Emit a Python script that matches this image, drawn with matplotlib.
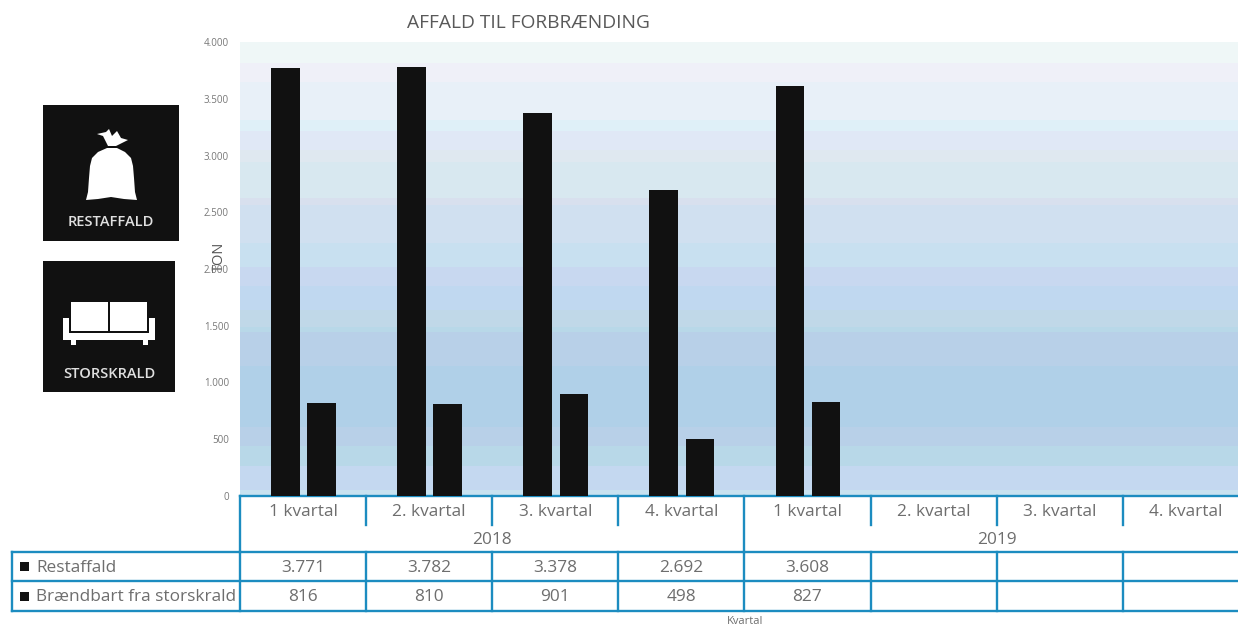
import matplotlib
matplotlib.use('Agg')
import matplotlib.pyplot as plt
from matplotlib.patches import Rectangle, Polygon

plt.rcParams['font.family'] = ['Open Sans', 'DejaVu Sans']

kvartaler = ['1 kvartal', '2. kvartal', '3. kvartal', '4. kvartal',
             '1 kvartal', '2. kvartal', '3. kvartal', '4. kvartal']
aar = ['2018', '2019']
serier = ['Restaffald', 'Brændbart fra storskrald']
restaffald = [3771, 3782, 3378, 2692, 3608]
storskrald = [816, 810, 901, 498, 827]
y_ticks = [0, 500, 1000, 1500, 2000, 2500, 3000, 3500, 4000]

# baggrundens striber: (top, bund, farve) i pixels
baand = [(42, 63, '#eff7f7'), (63, 82, '#eff0f8'), (82, 120, '#e8f0f8'), (120, 131, '#dff0f8'),
         (131, 150, '#e0e8f6'), (150, 162, '#dfe8f0'), (162, 198, '#d8e8f0'), (198, 205, '#d8e0ee'),
         (205, 243, '#d0e0f0'), (243, 267, '#c8e0f0'), (267, 286, '#c8d8f0'), (286, 310, '#c0d8f0'),
         (310, 327, '#c0d8e8'), (327, 332, '#b8d8e8'), (332, 366, '#b8d0e8'), (366, 427, '#b0d0e8'),
         (427, 446, '#b8d0e8'), (446, 466, '#b8d8e8'), (466, 490, '#c4d8f0'), (490, 496, '#c8e2f0')]

graa = '#6e6e6e'
blaa = '#1c8cc0'
sort = '#111111'
W, H = 1238, 626
venstre, cw = 240, 126.1

fig = plt.figure(figsize=(W / 100, H / 100), dpi=100)

# lag i pixels til baggrund, tabel og ikoner
pg = fig.add_axes([0, 0, 1, 1], zorder=0)
pg.set_xlim(0, W)
pg.set_ylim(H, 0)
pg.axis('off')

for top, bund, farve in baand:
    pg.add_patch(Rectangle((venstre, top), W - venstre, bund - top, color=farve, lw=0))

ax = fig.add_axes([venstre / W, (H - 496) / H, 8 * cw / W, 454 / H], zorder=1)
ax.patch.set_visible(False)
x = list(range(len(restaffald)))
ax.bar([i - 0.14 for i in x], restaffald, width=0.226, color=sort)
ax.bar([i + 0.147 for i in x], storskrald, width=0.226, color=sort)
ax.set_xlim(-0.5, 7.5)
ax.set_ylim(0, 4000)
ax.set_xticks([])
ax.set_yticks(y_ticks)
ax.set_yticklabels([f'{v:,}'.replace(',', '.') for v in y_ticks], fontsize=7, color='#777777')
ax.tick_params(axis='y', length=0, pad=8)
for s in ax.spines.values():
    s.set_visible(False)

pg.text(528, 23, 'AFFALD TIL FORBRÆNDING', fontsize=13.8, color='#595959', ha='center', va='center')
pg.text(219, 257, 'TON', fontsize=10.5, color='#555555', rotation=90, ha='center', va='center', zorder=5)
pg.text(745, 621, 'Kvartal', fontsize=8, color=graa, ha='center', va='center')


def linje(x0, y0, x1, y1):
    pg.plot([x0, x1], [y0, y1], color=blaa, lw=1.7, solid_capstyle='projecting', zorder=3)


kanter = [venstre + i * cw for i in range(9)]
y_top, y_kv, y_r1, y_r2, y_bund = 496, 525, 552, 581, 611

# kategori-akse
linje(venstre, y_top, W + 5, y_top)
linje(venstre, y_top, venstre, y_r1)
linje(kanter[4], y_top, kanter[4], y_r1)
for i in [1, 2, 3, 5, 6, 7]:
    linje(kanter[i], y_top, kanter[i], y_kv)
for i, navn in enumerate(kvartaler):
    pg.text(kanter[i] + cw / 2, 511.5, navn, fontsize=12.4, color=graa, ha='center', va='center')
for i, navn in enumerate(aar):
    pg.text(kanter[i * 4] + 2 * cw, 539.5, navn, fontsize=12.4, color=graa, ha='center', va='center')

# datatabel
for y in [y_r1, y_r2, y_bund]:
    linje(12, y, W + 5, y)
linje(12, y_r1, 12, y_bund)
for k in kanter:
    linje(k, y_r1, k, y_bund)

for y, navn, vaerdier in zip([566.5, 596], serier, [restaffald, storskrald]):
    pg.add_patch(Rectangle((20, y - 4.5), 9, 9, color=sort, lw=0))
    pg.text(36, y + 1, navn, fontsize=12.4, color=graa, ha='left', va='center')
    for i, v in enumerate(vaerdier):
        pg.text(kanter[i] + cw / 2, y + 1, f'{v:,}'.replace(',', '.'), fontsize=12.4, color=graa,
                ha='center', va='center')

# ikon: restaffald
pg.add_patch(Rectangle((43, 105), 136, 136, color=sort, lw=0))
pg.add_patch(Polygon([(107, 148), (98, 152), (92, 158), (90, 166), (89, 178), (88, 192), (86, 200), (98, 199),
                      (111, 197), (124, 199), (137, 200), (135, 192), (134, 178), (133, 166), (131, 158),
                      (125, 152), (117, 148)], closed=True, color='white', lw=0))
pg.add_patch(Polygon([(108, 146), (103, 136), (97, 134), (106, 132), (109, 129), (112, 136), (117, 131),
                      (121, 138), (128, 140), (120, 144), (116, 146)], closed=True, color='white', lw=0))
pg.text(111, 222.5, 'RESTAFFALD', fontsize=10.5, color='#e0e0e0', ha='center', va='center', fontweight='semibold')

# ikon: storskrald
pg.add_patch(Rectangle((43, 261), 132, 131, color=sort, lw=0))
pg.add_patch(Rectangle((71, 302), 37, 29, color='white', lw=0))
pg.add_patch(Rectangle((110, 302), 37, 29, color='white', lw=0))
pg.add_patch(Rectangle((63, 318), 6, 22, color='white', lw=0))
pg.add_patch(Rectangle((149, 318), 6, 22, color='white', lw=0))
pg.add_patch(Rectangle((63, 333), 92, 7, color='white', lw=0))
pg.add_patch(Rectangle((71, 340), 5, 5, color='white', lw=0))
pg.add_patch(Rectangle((143, 340), 5, 5, color='white', lw=0))
pg.text(109, 373.5, 'STORSKRALD', fontsize=10.5, color='#e0e0e0', ha='center', va='center', fontweight='semibold')

fig.savefig('out.png', dpi=100)
